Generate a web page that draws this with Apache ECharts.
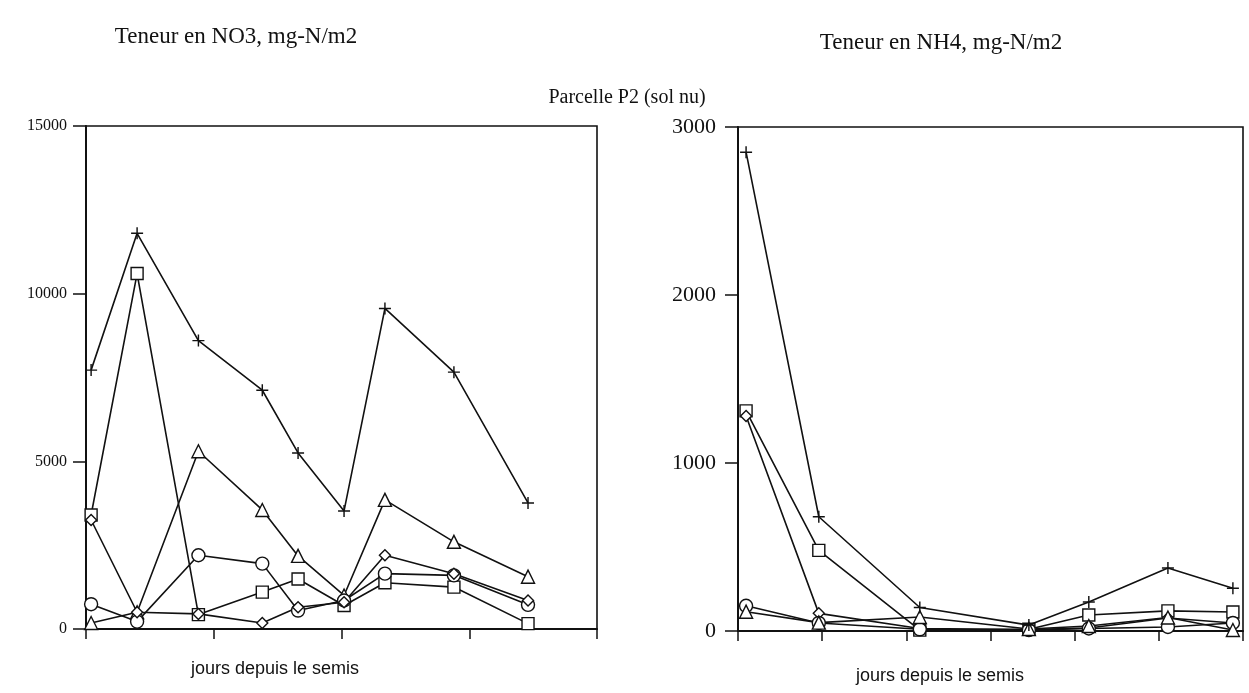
<!DOCTYPE html>
<html>
<head>
<meta charset="utf-8">
<script src="https://cdn.jsdelivr.net/npm/echarts@6/dist/echarts.min.js"></script>
<style>html,body{margin:0;padding:0;background:#fff}#c{width:1249px;height:693px}</style>
</head>
<body>
<div id="c"></div>
<script>
// ---- Left chart: NO3 (mg-N/m2) ----
var daysNO3 = [2, 20, 44, 69, 83, 101, 117, 144, 173];
var no3Plus     = [7720, 11800, 8600, 7120, 5250, 3520, 9560, 7660, 3760];
var no3Square   = [3400, 10600, 430, 1100, 1490, 700, 1380, 1250, 160];
var no3Triangle = [180, 500, 5300, 3550, 2180, 1000, 3850, 2600, 1560];
var no3Circle   = [740, 220, 2200, 1950, 550, 850, 1650, 1600, 720];
var no3Diamond  = [3250, 500, 450, 180, 650, 800, 2200, 1650, 850];
var no3YTicks = [0, 5000, 10000, 15000];

// ---- Right chart: NH4 (mg-N/m2) ----
var daysNH4 = [2.4, 24, 54, 86.4, 104.2, 127.7, 147];
var nh4Plus     = [2850, 680, 140, 35, 173, 375, 255];
var nh4Square   = [1310, 480, 5, 10, 95, 120, 113];
var nh4Diamond  = [1280, 105, 15, 8, 18, 77, 48];
var nh4Circle   = [150, 48, 10, 5, 15, 24, 48];
var nh4Triangle = [115, 50, 83, 12, 30, 80, 6];
var nh4YTicks = [0, 1000, 2000, 3000];

var titles = {
  left: 'Teneur en NO3, mg-N/m2',
  right: 'Teneur en NH4, mg-N/m2',
  center: 'Parcelle P2 (sol nu)',
  xName: 'jours depuis le semis'
};

var plusPath = 'path://M4.4,0h1.2v4.4h4.4v1.2h-4.4v4.4h-1.2v-4.4h-4.4v-1.2h4.4z';

function pairs(xs, ys) { return xs.map(function (x, i) { return [x, ys[i]]; }); }

function mkSeries(name, xs, ys, idx, symbol, size) {
  var isPlus = symbol === plusPath;
  return {
    name: name, type: 'line', xAxisIndex: idx, yAxisIndex: idx,
    data: pairs(xs, ys),
    symbol: symbol, symbolSize: size, showAllSymbol: true,
    lineStyle: { color: '#111', width: 1.6 },
    itemStyle: isPlus ? { color: '#111', borderWidth: 0 } : { color: '#fff', borderColor: '#111', borderWidth: 1.4 },
    emphasis: { disabled: true },
    animation: false, z: isPlus ? 4 : 3
  };
}

var serif = '"Liberation Serif", "DejaVu Serif", serif';
var sans = '"Liberation Sans", Arial, sans-serif';

function xAx(idx, max, interval) {
  return {
    type: 'value', gridIndex: idx, min: 0, max: max, interval: interval,
    axisLine: { show: true, onZero: false, lineStyle: { color: '#111', width: 2 } },
    axisTick: { show: true, inside: false, length: 10, lineStyle: { color: '#111', width: 1.5 } },
    axisLabel: { show: false }, splitLine: { show: false }
  };
}
function yAx(idx, ticks, fs, margin) {
  return {
    type: 'value', gridIndex: idx, min: ticks[0], max: ticks[ticks.length - 1],
    interval: ticks[1] - ticks[0],
    axisLine: { show: true, onZero: false, lineStyle: { color: '#111', width: 2 } },
    axisTick: { show: true, inside: false, length: 13, lineStyle: { color: '#111', width: 1.5 } },
    axisLabel: { show: true, color: '#111', fontFamily: serif, fontSize: fs, margin: margin,
      formatter: function (v) { return String(v); } },
    splitLine: { show: false }
  };
}

var chart = echarts.init(document.getElementById('c'), null, { renderer: 'canvas' });
chart.setOption({
  backgroundColor: '#fff',
  animation: false,
  title: [
    { text: titles.left, left: 231, top: 20, textAlign: 'center', textStyle: { fontFamily: serif, fontSize: 23, fontWeight: 'normal', color: '#111' } },
    { text: titles.right, left: 936, top: 26, textAlign: 'center', textStyle: { fontFamily: serif, fontSize: 23, fontWeight: 'normal', color: '#111' } },
    { text: titles.center, left: 622, top: 83, textAlign: 'center', textStyle: { fontFamily: serif, fontSize: 20, fontWeight: 'normal', color: '#111' } },
    { text: titles.xName, left: 270, top: 655, textAlign: 'center', textStyle: { fontFamily: sans, fontSize: 18, fontWeight: 'normal', color: '#111' } },
    { text: titles.xName, left: 935, top: 662, textAlign: 'center', textStyle: { fontFamily: sans, fontSize: 18, fontWeight: 'normal', color: '#111' } }
  ],
  grid: [
    { left: 86, top: 126, width: 511, height: 503, show: true, borderColor: '#111', borderWidth: 1.6, backgroundColor: 'transparent' },
    { left: 738, top: 127, width: 505, height: 504, show: true, borderColor: '#111', borderWidth: 1.6, backgroundColor: 'transparent' }
  ],
  xAxis: [xAx(0, 200, 50), xAx(1, 150, 25)],
  yAxis: [yAx(0, no3YTicks, 16, 19), yAx(1, nh4YTicks, 22, 22)],
  series: [
    mkSeries('NO3 +', daysNO3, no3Plus, 0, plusPath, 12),
    mkSeries('NO3 carré', daysNO3, no3Square, 0, 'rect', 12),
    mkSeries('NO3 triangle', daysNO3, no3Triangle, 0, 'triangle', 13),
    mkSeries('NO3 cercle', daysNO3, no3Circle, 0, 'circle', 13),
    mkSeries('NO3 losange', daysNO3, no3Diamond, 0, 'diamond', 11),
    mkSeries('NH4 +', daysNH4, nh4Plus, 1, plusPath, 12),
    mkSeries('NH4 carré', daysNH4, nh4Square, 1, 'rect', 12),
    mkSeries('NH4 losange', daysNH4, nh4Diamond, 1, 'diamond', 11),
    mkSeries('NH4 cercle', daysNH4, nh4Circle, 1, 'circle', 13),
    mkSeries('NH4 triangle', daysNH4, nh4Triangle, 1, 'triangle', 13)
  ]
});
</script>
</body>
</html>
